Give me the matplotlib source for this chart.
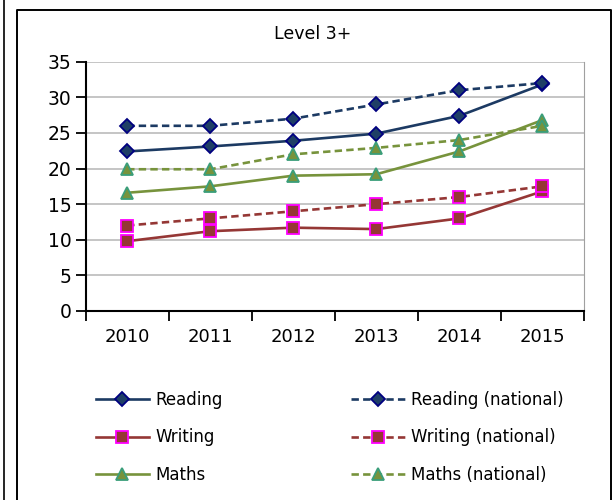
import numpy as np
import matplotlib.pyplot as plt
from matplotlib.lines import Line2D

years = ["2010", "2011", "2012", "2013", "2014", "2015"]

reading = [22.4, 23.1, 23.9, 24.9, 27.4, 31.8]
reading_nat = [26, 26, 27, 29, 31, 32]
writing = [9.8, 11.2, 11.7, 11.5, 13.0, 16.8]
writing_nat = [12, 13, 14, 15, 16, 17.5]
maths = [16.6, 17.5, 19.0, 19.2, 22.4, 26.8]
maths_nat = [19.9, 19.9, 22, 22.9, 24, 26]

yticks = [0, 5, 10, 15, 20, 25, 30, 35]

# colours: line, marker face, marker edge
navy = ("#1C3A63", "#1F3F66", "#000080")
red = ("#953735", "#953735", "#FF00FF")
green = ("#77933C", "#77933C", "#3A9E7A")

fig = plt.figure(figsize=(6.14, 5.0), dpi=100)
ax = fig.add_axes([0.1394, 0.378, 0.8116, 0.4986])

x = np.arange(len(years))
dash = (2.8, 1.6)

def draw(vals, col, marker, ms, label, dashed):
    ls = "--" if dashed else "-"
    ln, = ax.plot(x, vals, ls, color=col[0], lw=1.9, marker=marker, ms=ms,
                  mfc=col[1], mec=col[2], mew=1.3, label=label, zorder=3)
    if dashed:
        ln.set_dashes(dash)
    return ln

h1 = draw(reading, navy, "D", 7, "Reading", False)
h2 = draw(writing, red, "s", 8, "Writing", False)
h3 = draw(maths, green, "^", 9, "Maths", False)
h4 = draw(reading_nat, navy, "D", 7, "Reading (national)", True)
h5 = draw(writing_nat, red, "s", 8, "Writing (national)", True)
h6 = draw(maths_nat, green, "^", 9, "Maths (national)", True)

ax.set_xlim(-0.5, len(years) - 0.5)
ax.set_ylim(0, 35)
ax.set_yticks(yticks)
ax.set_xticks(x)
ax.set_xticklabels(years)
ax.set_xticks(np.arange(-0.5, len(years)), minor=True)
ax.tick_params(axis="x", which="major", length=0, pad=12, labelsize=13)
ax.tick_params(axis="x", which="minor", length=7, width=1.3, direction="out")
ax.tick_params(axis="y", length=7, width=1.3, labelsize=13.5, pad=3)

ax.grid(axis="y", color="#C0C0C0", lw=1.3)
ax.set_axisbelow(True)
ax.spines["top"].set_visible(False)
ax.spines["right"].set_color("#A0A0A0")
ax.spines["left"].set_linewidth(1.5)
ax.spines["bottom"].set_linewidth(1.5)

fig.text(0.51, 0.932, "Level 3+", ha="center", va="center", fontsize=12.5)

leg = fig.legend(handles=[h1, h2, h3, h4, h5, h6], ncol=2, loc="center",
                 bbox_to_anchor=(0.537, 0.125), frameon=False, fontsize=12,
                 handlelength=3.2, columnspacing=7.7, labelspacing=1.18,
                 handletextpad=0.4)

# outer chart frame
fig.add_artist(Line2D([4 / 614, 4 / 614], [0, 1], color="black", lw=1.2))
fig.add_artist(Line2D([17 / 614, 17 / 614, 611 / 614, 611 / 614],
                      [0, 490 / 500, 490 / 500, 0], color="black", lw=1.4))

fig.savefig("out.png", dpi=100)
